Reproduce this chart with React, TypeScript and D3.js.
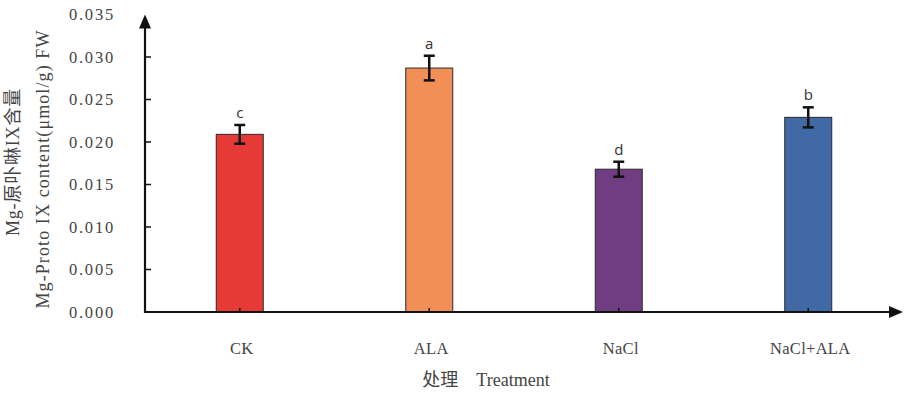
import React from "react";
import * as d3 from "d3";

const categories = ["CK", "ALA", "NaCl", "NaCl+ALA"];
const values = [0.0209, 0.0287, 0.0168, 0.0229];
const errors = [0.0011, 0.00145, 0.00088, 0.00118];
const letters = ["c", "a", "d", "b"];
const colors = ["#E53A35", "#F28F57", "#703D82", "#4169A6"];
const yTicks = [0, 0.005, 0.01, 0.015, 0.02, 0.025, 0.03, 0.035];

export default function App() {
  const W = 909, H = 395;
  const x0 = 145, x1 = 903, y0 = 312, yTop = 14.5;
  const x = d3.scaleBand<string>().domain(categories).range([x0, x1]).paddingInner(0.752).paddingOuter(0.376);
  const y = d3.scaleLinear().domain([0, 0.035]).range([y0, yTop]);
  const bw = x.bandwidth();
  const serif = "'Liberation Serif', 'DejaVu Serif', 'Noto Sans CJK SC', serif";
  return (
    <svg width={W} height={H} style={{ position: "absolute", left: 0, top: 0, background: "#fff" }}>
      {categories.map((c, i) => (
        <rect key={c} x={x(c)} y={y(values[i])} width={bw} height={y0 - y(values[i])}
          fill={colors[i]} stroke="#2a2a2a" strokeWidth={1} />
      ))}
      {categories.map((c, i) => {
        const cx = (x(c) as number) + bw / 2;
        const hi = y(values[i] + errors[i]);
        const lo = y(values[i] - errors[i]);
        return (
          <g key={c + "e"} stroke="#111" strokeWidth={2.5}>
            <line x1={cx} x2={cx} y1={hi} y2={lo} />
            <line x1={cx - 5.5} x2={cx + 5.5} y1={hi} y2={hi} />
            <line x1={cx - 5.5} x2={cx + 5.5} y1={lo} y2={lo} />
          </g>
        );
      })}
      {categories.map((c, i) => (
        <text key={c + "l"} x={(x(c) as number) + bw / 2} y={y(values[i] + errors[i]) - 7}
          textAnchor="middle" fontFamily="'Open Sans', 'Noto Sans', sans-serif" fontSize={15} fill="#333">
          {letters[i]}
        </text>
      ))}
      <line x1={x0} x2={x0} y1={y0 + 1} y2={yTop + 10} stroke="#111" strokeWidth={2.2} />
      <path d={`M${x0},${yTop} L${x0 - 6},${yTop + 14} L${x0 + 6},${yTop + 14} Z`} fill="#111" />
      {yTicks.filter(t => t > 0 && t < 0.035).map(t => (
        <line key={"t" + t} x1={x0} x2={x0 + 6} y1={y(t)} y2={y(t)} stroke="#111" strokeWidth={1.5} />
      ))}
      {yTicks.map(t => (
        <text key={"l" + t} x={115} y={y(t)} dy="0.35em" textAnchor="end" fontFamily={serif}
          fontSize={16.5} fill="#444" letterSpacing={1.8}>
          {d3.format(".3f")(t)}
        </text>
      ))}
      <line x1={x0 - 1} x2={x1 - 8} y1={y0} y2={y0} stroke="#111" strokeWidth={2.2} />
      <path d={`M${x1},${y0} L${x1 - 14},${y0 - 6} L${x1 - 14},${y0 + 6} Z`} fill="#111" />
      {categories.map(c => (
        <line key={c + "xt"} x1={(x(c) as number) + bw / 2} x2={(x(c) as number) + bw / 2} y1={y0} y2={y0 - 4}
          stroke="#111" strokeWidth={1.5} />
      ))}
      {categories.map(c => (
        <text key={c + "xl"} x={(x(c) as number) + bw / 2 + 2} y={354} textAnchor="middle" fontFamily={serif}
          fontSize={16.5} fill="#444" letterSpacing={0.3}>
          {c}
        </text>
      ))}
      <text x={486} y={386} textAnchor="middle" fontFamily={serif} fontSize={18} fill="#444">
        处理&#160;&#160;&#160;&#160;Treatment
      </text>
      <text transform={`translate(19,162) rotate(-90)`} textAnchor="middle" fontFamily={serif} fontSize={18}
        fill="#444" letterSpacing={0.8}>
        Mg-原卟啉IX含量
      </text>
      <text transform={`translate(49,169) rotate(-90)`} textAnchor="middle" fontFamily={serif} fontSize={18}
        fill="#444" letterSpacing={1.1}>
        Mg-Proto IX content(μmol/g) FW
      </text>
    </svg>
  );
}
